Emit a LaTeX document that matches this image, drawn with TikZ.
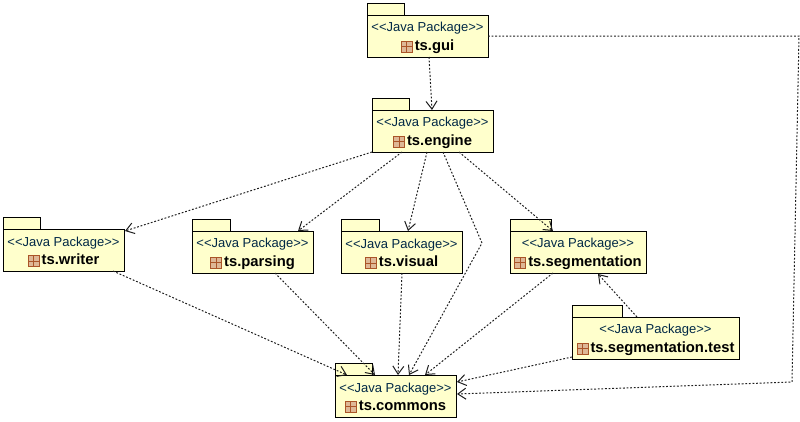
\documentclass[tikz,border=0pt]{standalone}
\usepackage{fontspec}
\setmainfont{Liberation Sans}
\usetikzlibrary{arrows.meta,positioning,calc}

\definecolor{pkgfill}{RGB}{255,255,204}
\definecolor{stereo}{RGB}{0,40,70}
\definecolor{iconfill}{RGB}{222,184,150}
\definecolor{iconline}{RGB}{170,85,40}
\definecolor{depline}{RGB}{30,30,30}

\newcommand{\pkgicon}{\tikz[baseline=-3pt,x=1pt,y=1pt]{\fill[iconfill] (0,-5) rectangle (11,6);
  \draw[iconline,line width=1pt] (0,-5) rectangle (11,6) (5.5,-5) -- (5.5,6) (0,0.5) -- (11,0.5);}}
\newcommand{\pkgtext}[1]{{\fontsize{13}{15}\selectfont\color{stereo}\rule{0pt}{13.5pt}<{}<Java Package>{}>}\\[4pt]
  {\fontsize{14.8}{15}\selectfont\bfseries\pkgicon\kern2pt #1}}

\tikzset{
  pkg/.style={draw,fill=pkgfill,line width=1pt,minimum height=42pt,align=center,inner sep=0pt,outer sep=0pt,anchor=north west},
  pkgtab/.style={draw,fill=pkgfill,line width=1pt,minimum height=12pt,inner sep=0pt,outer sep=0pt,above right=0pt and 0pt},
  dep/.style={-{Straight Barb[length=8pt,width=11pt]},depline,dash pattern=on 1.8pt off 1.8pt,line width=1pt}
}

\begin{document}
\begin{tikzpicture}[x=1pt,y=-1pt]
  \useasboundingbox (0,0) rectangle (800,421);

  \node[pkg,minimum width=121pt] (gui) at (367,15) {\pkgtext{ts.gui}};
  \node[pkg,minimum width=121pt] (engine) at (372,110) {\pkgtext{ts.engine}};
  \node[pkg,minimum width=121pt] (writer) at (3,229) {\pkgtext{ts.writer}};
  \node[pkg,minimum width=121pt] (parsing) at (192,231) {\pkgtext{ts.parsing}};
  \node[pkg,minimum width=121pt] (visual) at (341,231) {\pkgtext{ts.visual}};
  \node[pkg,minimum width=136pt] (segmentation) at (510,231) {\pkgtext{ts.segmentation}};
  \node[pkg,minimum width=167pt] (test) at (572,317) {\pkgtext{ts.segmentation.test}};
  \node[pkg,minimum width=121pt] (commons) at (335,375) {\pkgtext{ts.commons}};

  \node[pkgtab,minimum width=37pt] (guitab) at (gui.north west) {};
  \node[pkgtab,minimum width=37pt] (enginetab) at (engine.north west) {};
  \node[pkgtab,minimum width=37pt] (writertab) at (writer.north west) {};
  \node[pkgtab,minimum width=38pt] (parsingtab) at (parsing.north west) {};
  \node[pkgtab,minimum width=38pt] (visualtab) at (visual.north west) {};
  \node[pkgtab,minimum width=41pt] (segmentationtab) at (segmentation.north west) {};
  \node[pkgtab,minimum width=50pt] (testtab) at (test.north west) {};
  \node[pkgtab,minimum width=37pt] (commonstab) at (commons.north west) {};

  \coordinate (bendgui) at (799,36);
  \coordinate (bendlow) at (792,382);
  \coordinate (bendengine) at (482,243);

  \draw[dep] ($(gui.south west)+(62,0)$) -- ($(engine.north west)+(60,0)$);
  \draw[dep] (gui.east |- bendgui) -- (bendgui) -- (bendlow) -- ($(commons.north east)+(1,19)$);
  \draw[dep] (engine.south west) -- ($(writer.north east)+(1,2)$);
  \draw[dep] ($(engine.south west)+(30,0)$) -- ($(parsing.north west)+(106,0)$);
  \draw[dep] ($(engine.south west)+(55,0)$) -- ($(visual.north west)+(67,0)$);
  \draw[dep] ($(engine.south west)+(87,0)$) -- ($(segmentation.north west)+(43,0)$);
  \draw[dep] ($(engine.south west)+(71,0)$) -- (bendengine) -- ($(commons.north west)+(74,0)$);
  \draw[dep] ($(writer.south west)+(110,0)$) -- ($(commons.north west)+(12,0)$);
  \draw[dep] ($(parsing.south west)+(83,0)$) -- ($(commons.north west)+(40,0)$);
  \draw[dep] ($(visual.south west)+(61,0)$) -- ($(commons.north west)+(63,0)$);
  \draw[dep] ($(segmentation.south west)+(43,0)$) -- ($(commons.north west)+(90,0)$);
  \draw[dep] ($(test.north west)+(65,0)$) -- ($(segmentation.south west)+(88,1)$);
  \draw[dep] ($(test.south west)+(0,-2)$) -- ($(commons.north east)+(1,7)$);
\end{tikzpicture}
\end{document}
